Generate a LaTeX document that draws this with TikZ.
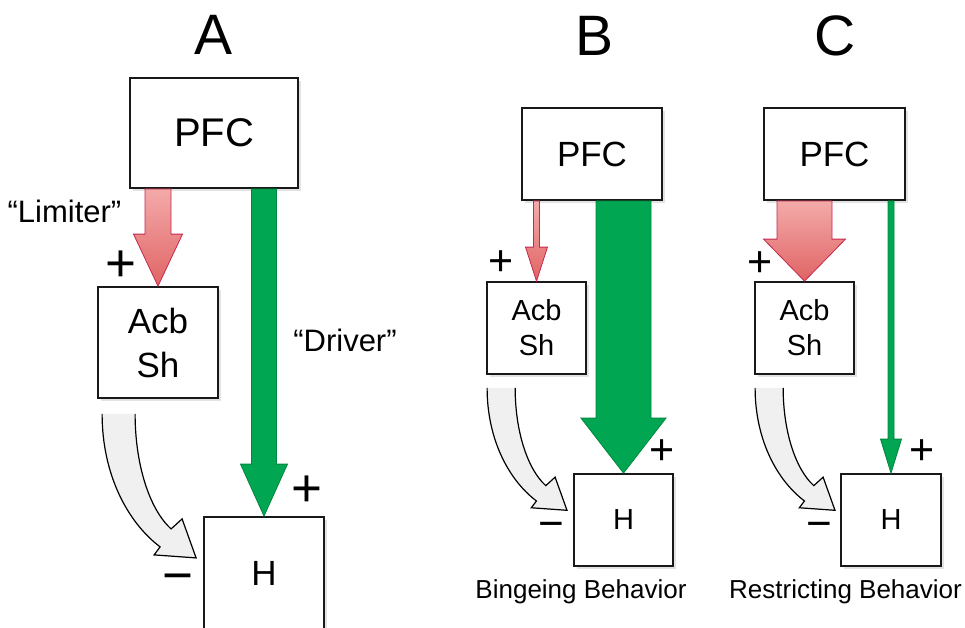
\documentclass[tikz,border=0pt]{standalone}
\usepackage{fontspec}
\setmainfont{Liberation Sans}
\usetikzlibrary{shadows,calc}
\definecolor{redTop}{HTML}{F4AAAA}
\definecolor{redBot}{HTML}{E06464}
\definecolor{redLine}{HTML}{C4284E}
\definecolor{grn}{HTML}{00A651}
\definecolor{grnLine}{HTML}{00873F}
\definecolor{curveFill}{HTML}{F0F0F0}
\newcommand\fsz[1]{\fontsize{#1}{1.25\dimexpr#1pt\relax}\selectfont}
% block arrow: style, start, tip, shaft half width, head half width, head length
\newcommand\blockarrow[6]{%
  \path[#1] let \p1=(#2), \p2=(#3) in
    (\x2-#4,\y1) -- (\x2+#4,\y1) -- (\x2+#4,\y2+#6) -- (\x2+#5,\y2+#6)
    -- (\x2,\y2) -- (\x2-#5,\y2+#6) -- (\x2-#4,\y2+#6) -- cycle;}
% curved open arrow: shift, scale
\newcommand\curvedarrow[2]{%
  \begin{scope}[shift={#1}, scale=#2]
    \fill[curveFill] (0,0) .. controls (0,60) and (25,108) .. (58,133) -- (52,141) -- (94,144)
      -- (80,105) -- (69,115) .. controls (47,95) and (33,50) .. (33,0) -- cycle;
    \draw[curveline] (0,0) .. controls (0,60) and (25,108) .. (58,133) -- (52,141) -- (94,144)
      -- (80,105) -- (69,115) .. controls (47,95) and (33,50) .. (33,0);
  \end{scope}}
\begin{document}
\begin{tikzpicture}[x=1pt,y=-1pt,
  box/.style={draw=black!90, line width=1.8pt, fill=white, inner sep=0pt, align=center,
    drop shadow={opacity=0.22, shadow xshift=2.5pt, shadow yshift=-2.5pt}},
  redarrow/.style={draw=redLine, line width=0.8pt, top color=redTop, bottom color=redBot},
  greenarrow/.style={draw=grnLine, line width=0.8pt, fill=grn},
  curveline/.style={draw=black, line width=1.2pt, line join=miter},
  lbl/.style={inner sep=0pt}]
\useasboundingbox (0,0) rectangle (965,627);
\clip (0,0) rectangle (965,627);

% panel titles
\node[lbl, font=\fsz{57}] (labA) at (214,35) {A};
\node[lbl, font=\fsz{57}] (labB) at (594,36) {B};
\node[lbl, font=\fsz{57}] (labC) at (835,36) {C};

% Panel A boxes
\node[box, minimum width=168pt, minimum height=110pt, font=\fsz{40}] (pfcA) at (214,133) {PFC};
\node[box, minimum width=120pt, minimum height=111pt, font=\fontsize{35}{44}\selectfont] (acbA) at (158,342.5) {Acb\\Sh};
\node[box, minimum width=120pt, minimum height=113pt, font=\fsz{35}] (hA) at (264,573.5) {H};

% Panel B boxes
\node[box, minimum width=140pt, minimum height=92pt, font=\fsz{35}] (pfcB) at (592,154) {PFC};
\node[box, minimum width=99pt, minimum height=92pt, font=\fontsize{29}{35}\selectfont] (acbB) at (536.5,328) {Acb\\Sh};
\node[box, minimum width=99pt, minimum height=92pt, font=\fsz{29}] (hB) at (623.5,520) {H};

% Panel C boxes
\node[box, minimum width=141pt, minimum height=92pt, font=\fsz{35}] (pfcC) at (834.5,154) {PFC};
\node[box, minimum width=99pt, minimum height=92pt, font=\fontsize{29}{35}\selectfont] (acbC) at (804.5,328) {Acb\\Sh};
\node[box, minimum width=100pt, minimum height=92pt, font=\fsz{29}] (hC) at (891,520) {H};

% block arrows
\blockarrow{redarrow}{pfcA.south -| acbA.north}{acbA.north}{13pt}{24.5pt}{52pt}
\blockarrow{greenarrow}{pfcA.south -| hA.north}{hA.north}{12.5pt}{23.5pt}{52pt}
\blockarrow{redarrow}{pfcB.south -| acbB.north}{acbB.north}{3pt}{11pt}{34pt}
\blockarrow{greenarrow}{pfcB.south -| hB.north}{hB.north}{27.5pt}{42.5pt}{55pt}
\blockarrow{redarrow}{pfcC.south -| acbC.north}{acbC.north}{27.5pt}{41pt}{42pt}
\blockarrow{greenarrow}{pfcC.south -| hC.north}{hC.north}{3pt}{10.5pt}{34pt}

% curved arrows from Acb/Sh to H
\curvedarrow{($(acbA.south west)+(5,15)$)}{1}
\curvedarrow{($(acbB.south west)+(1,13)$)}{0.85}
\curvedarrow{($(acbC.south west)+(1,13)$)}{0.85}

% signs
\node[lbl, font=\fsz{53}] (pA1) at (121,266) {+};
\node[lbl, font=\fsz{53}] (pA2) at (307,491) {+};
\node[lbl, font=\fsz{53}] (mA) at (178,584) {−};
\node[lbl, font=\fsz{43}] (pB1) at (501,263) {+};
\node[lbl, font=\fsz{43}] (pB2) at (662,452) {+};
\node[lbl, font=\fsz{44}] (mB) at (551,530) {−};
\node[lbl, font=\fsz{43}] (pC1) at (760,264) {+};
\node[lbl, font=\fsz{43}] (pC2) at (922,452) {+};
\node[lbl, font=\fsz{44}] (mC) at (819,530) {−};

% text labels
\node[lbl, font=\fsz{31}] (limiter) at (64.5,211) {“Limiter”};
\node[lbl, font=\fsz{31}] (driver) at (345,340) {“Driver”};
\node[lbl, font=\fsz{26}] (binge) at (581,592) {Bingeing Behavior};
\node[lbl, font=\fsz{26}] (restrict) at (845.5,592) {Restricting Behavior};
\end{tikzpicture}
\end{document}
